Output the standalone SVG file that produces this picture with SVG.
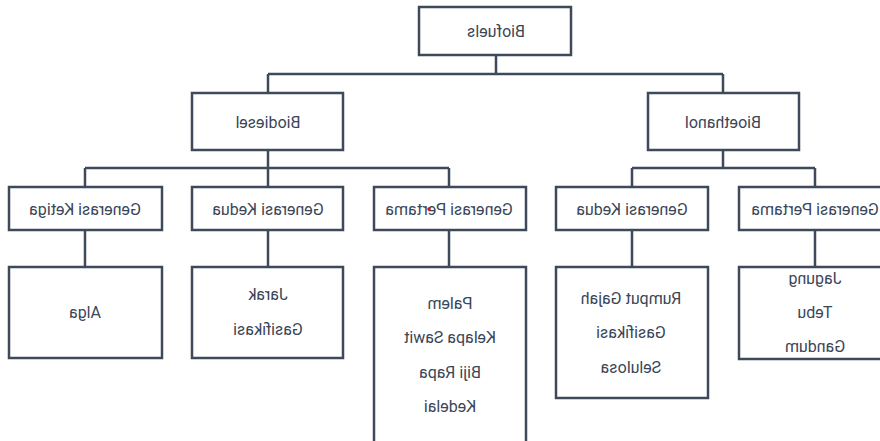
<svg xmlns="http://www.w3.org/2000/svg" width="880" height="441" viewBox="0 0 880 441">
<style>
.box{fill:#ffffff;stroke:#3e4959;stroke-width:2.5}
.ln{fill:none;stroke:#3e4959;stroke-width:2.5}
text{font-family:Roboto,"Liberation Sans",sans-serif;font-size:16px;fill:#3a4558;text-anchor:middle}
</style>
<rect width="880" height="441" fill="#ffffff"/>
<g id="connectors">
<path class="ln" d="M496 55V74M268 74H723M268 74V93M723 74V93"/>
<path class="ln" d="M268 150V168M85 168H449M85 168V187M268 168V187M449 168V187"/>
<path class="ln" d="M723 150V168M632 168H815M632 168V187M815 168V187"/>
<path class="ln" d="M85 230V267M268 230V267M449 230V267M632 230V267M815 230V267"/>
</g>
<g id="biofuels"><rect class="box" x="419" y="7" width="152" height="48"/><text transform="scale(-1,1)" x="-496" y="37">Biofuels</text></g>
<g id="biodiesel"><rect class="box" x="192" y="93" width="151" height="57"/><text transform="scale(-1,1)" x="-268" y="128">Biodiesel</text></g>
<g id="bioethanol"><rect class="box" x="648" y="93" width="151" height="57"/><text transform="scale(-1,1)" x="-723" y="128">Bioethanol</text></g>
<g id="bd-ketiga"><rect class="box" x="9" y="187" width="153" height="43"/><text transform="scale(-1,1)" x="-85" y="215">Generasi Ketiga</text></g>
<g id="bd-kedua"><rect class="box" x="192" y="187" width="151" height="43"/><text transform="scale(-1,1)" x="-268" y="215">Generasi Kedua</text></g>
<g id="bd-pertama"><rect class="box" x="374" y="187" width="152" height="43"/><text transform="scale(-1,1)" x="-449" y="215">Generasi Pertama</text><circle cx="429" cy="209" r="1.8" fill="#e01010"/></g>
<g id="be-kedua"><rect class="box" x="556" y="187" width="152" height="43"/><text transform="scale(-1,1)" x="-632" y="215">Generasi Kedua</text></g>
<g id="be-pertama"><rect class="box" x="739" y="187" width="152" height="43"/><text transform="scale(-1,1)" x="-815" y="215">Generasi Pertama</text></g>
<g id="alga"><rect class="box" x="9" y="267" width="153" height="91"/><text transform="scale(-1,1)" x="-85" y="318">Alga</text></g>
<g id="jarak"><rect class="box" x="192" y="267" width="151" height="91"/><text transform="scale(-1,1)" x="-268" y="300">Jarak</text><text transform="scale(-1,1)" x="-268" y="335">Gasifikasi</text></g>
<g id="palem"><rect class="box" x="374" y="267" width="152" height="190"/><text transform="scale(-1,1)" x="-450" y="309">Palem</text><text transform="scale(-1,1)" x="-450" y="343">Kelapa Sawit</text><text transform="scale(-1,1)" x="-450" y="378">Biji Rapa</text><text transform="scale(-1,1)" x="-450" y="412">Kedelai</text></g>
<g id="rumput"><rect class="box" x="556" y="267" width="152" height="131"/><text transform="scale(-1,1)" x="-631" y="304">Rumput Gajah</text><text transform="scale(-1,1)" x="-631" y="338">Gasifikasi</text><text transform="scale(-1,1)" x="-631" y="373">Selulosa</text></g>
<g id="jagung"><rect class="box" x="739" y="267" width="152" height="92"/><text transform="scale(-1,1)" x="-815" y="284">Jagung</text><text transform="scale(-1,1)" x="-815" y="318">Tebu</text><text transform="scale(-1,1)" x="-815" y="352">Gandum</text></g>
</svg>
